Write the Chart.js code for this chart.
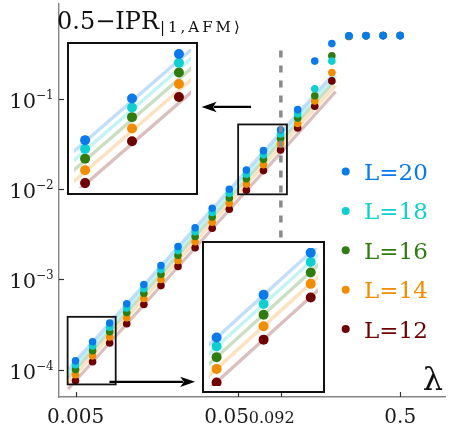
<!DOCTYPE html>
<html>
<head>
<meta charset="utf-8">
<script src="https://cdn.jsdelivr.net/npm/chart.js@4.4.1/dist/chart.umd.min.js"></script>
<style>
html, body { margin: 0; padding: 0; background: #fff; }
#wrap { position: relative; width: 449px; height: 433px; }
#main { position: absolute; left: 0; top: 0; }
.inset { position: absolute; border: 2px solid #111; background: #fff; }
.inset canvas { display: block; }
</style>
</head>
<body>
<div id="wrap">
  <canvas id="main" width="449" height="433"></canvas>
  <div class="inset" style="left:67px;top:42px;width:127px;height:149px"><canvas id="insetA" width="127" height="149"></canvas></div>
  <div class="inset" style="left:202px;top:241px;width:119px;height:148px"><canvas id="insetB" width="119" height="148"></canvas></div>
</div>
<script>
// coupling strengths
const lambdas = [0.005, 0.00637, 0.00812, 0.01034, 0.01318, 0.0168, 0.0214, 0.02727, 0.03475, 0.04428,
                 0.05643, 0.0719, 0.0916, 0.1168, 0.1488, 0.1896, 0.2416, 0.3079, 0.3924, 0.5];

// 0.5 - IPR for each system size
const sizes = [20, 18, 16, 14, 12];
const iprL20 = [1.25e-4, 2.03e-4, 3.28e-4, 5.36e-4, 8.75e-4, 1.42e-3, 2.31e-3, 3.73e-3, 6.12e-3, 9.95e-3,
                0.0162, 0.0266, 0.0452, 0.0757, 0.261, 0.408, 0.499, 0.5, 0.5, 0.5];
const iprL18 = [1.13e-4, 1.83e-4, 2.95e-4, 4.82e-4, 7.88e-4, 1.28e-3, 2.08e-3, 3.36e-3, 5.51e-3, 8.96e-3,
                0.0146, 0.0239, 0.0407, 0.0679, 0.1287, 0.261, 0.497, 0.499, 0.5, 0.5];
const iprL16 = [1.0e-4, 1.62e-4, 2.62e-4, 4.29e-4, 7.0e-4, 1.14e-3, 1.85e-3, 2.98e-3, 4.9e-3, 7.96e-3,
                0.013, 0.0213, 0.0362, 0.061, 0.1079, 0.299, 0.495, 0.499, 0.5, 0.5];
const iprL14 = [8.75e-5, 1.42e-4, 2.3e-4, 3.75e-4, 6.13e-4, 9.94e-4, 1.62e-3, 2.61e-3, 4.28e-3, 6.97e-3,
                0.01134, 0.0186, 0.0316, 0.0532, 0.0944, 0.1948, 0.493, 0.498, 0.5, 0.5];
const iprL12 = [7.5e-5, 1.22e-4, 1.97e-4, 3.22e-4, 5.25e-4, 8.52e-4, 1.39e-3, 2.24e-3, 3.67e-3, 5.97e-3,
                0.00972, 0.016, 0.0271, 0.0474, 0.0825, 0.1576, 0.488, 0.497, 0.5, 0.5];

// perturbative fits, evaluated at the ends of fitRange
const fitRange = [0.0045, 0.2];
const fitL20 = [1.01e-4, 0.2];
const fitL18 = [9.1e-5, 0.18];
const fitL16 = [8.1e-5, 0.16];
const fitL14 = [7.1e-5, 0.14];
const fitL12 = [6.1e-5, 0.12];

const criticalLambda = 0.092;
const criticalSpan = [0.0029, 0.378];

const yTicks = [1e-4, 1e-3, 1e-2, 1e-1];
const yTickExp = ['\u22124', '\u22123', '\u22122', '\u22121'];
const xTicks = [0.005, 0.05, 0.092, 0.5];
const xTickLabels = ['0.005', '0.05', '0.092', '0.5'];

const series = [iprL20, iprL18, iprL16, iprL14, iprL12];
const fits = [fitL20, fitL18, fitL16, fitL14, fitL12];
const colors = ['#0a7aeb', '#10cfcf', '#2e7d0e', '#f28c00', '#6e0000'];

const SERIF = '"DejaVu Serif", serif';

function fade(hex, a) {
  const n = parseInt(hex.slice(1), 16);
  return `rgba(${n >> 16},${(n >> 8) & 255},${n & 255},${a})`;
}

function pointSets(radius) {
  return series.map((vals, i) => ({
    label: 'L=' + sizes[i],
    data: lambdas.map((l, k) => ({ x: l, y: vals[k] })),
    backgroundColor: colors[i],
    borderWidth: 0,
    pointRadius: radius,
    order: i
  }));
}

function fitSets(width) {
  return fits.map((f, i) => ({
    data: fitRange.map((l, k) => ({ x: l, y: f[k] })),
    showLine: true,
    borderColor: fade(colors[i], 0.25),
    borderWidth: width,
    pointRadius: 0,
    order: 10 + i
  }));
}

// log axis that keeps exactly the given limits
function logAxis(min, max, extra) {
  return Object.assign({ type: 'logarithmic', min, max, bounds: 'data',
    afterBuildTicks: s => { s.min = min; s.max = max; } }, extra);
}

// zoom windows and arrows, in data coordinates
const zoomBoxes = [
  { x: [0.0502, 0.1003], y: [0.00873, 0.0519] },
  { x: [0.00447, 0.00884], y: [6.85e-5, 3.84e-4] }
];
const arrows = [
  { from: [0.0603, 0.0811], to: [0.0299, 0.0811] },
  { from: [0.00809, 7.31e-5], to: [0.0273, 7.31e-5] }
];

function arrow(ctx, x0, y0, x1, y1) {
  const dir = Math.sign(x1 - x0);
  const len = 15, half = 5.2;
  ctx.beginPath();
  ctx.moveTo(x0, y0);
  ctx.lineTo(x1 - dir * len * 0.8, y1);
  ctx.stroke();
  ctx.beginPath();
  ctx.moveTo(x1, y1);
  ctx.lineTo(x1 - dir * len, y1 - half);
  ctx.lineTo(x1 - dir * len * 0.75, y1);
  ctx.lineTo(x1 - dir * len, y1 + half);
  ctx.closePath();
  ctx.fill();
}

const decorations = {
  id: 'decorations',
  afterDatasetsDraw(chart) {
    const { ctx, chartArea: a, scales: { x, y } } = chart;
    ctx.save();

    // inward tick marks
    ctx.strokeStyle = '#333';
    ctx.lineWidth = 1.2;
    yTicks.forEach(v => {
      const py = Math.round(y.getPixelForValue(v)) + 0.5;
      ctx.beginPath(); ctx.moveTo(a.left, py); ctx.lineTo(a.left + 5, py); ctx.stroke();
    });
    xTicks.forEach(v => {
      const px = Math.round(x.getPixelForValue(v)) + 0.5;
      ctx.beginPath(); ctx.moveTo(px, a.bottom); ctx.lineTo(px, a.bottom - 5); ctx.stroke();
    });

    // y tick labels: 10 with exponent
    ctx.fillStyle = '#1a1a1a';
    yTicks.forEach((v, i) => {
      const py = y.getPixelForValue(v);
      ctx.font = '21px ' + SERIF;
      ctx.textAlign = 'right';
      ctx.fillText('10', a.left - 23, py + 9);
      ctx.font = '12px ' + SERIF;
      ctx.textAlign = 'left';
      ctx.fillText(yTickExp[i], a.left - 23, py);
    });

    // x tick labels
    xTicks.forEach((v, i) => {
      const px = x.getPixelForValue(v);
      const base = a.bottom + 26;
      if (v === 0.05) {
        ctx.font = '20px ' + SERIF; ctx.textAlign = 'right';
        ctx.fillText(xTickLabels[i], px + 11, base);
      } else if (v === criticalLambda) {
        ctx.font = '16px ' + SERIF; ctx.textAlign = 'left';
        ctx.fillText(xTickLabels[i], px - 32, base);
      } else {
        ctx.font = '20px ' + SERIF; ctx.textAlign = 'center';
        ctx.fillText(xTickLabels[i], px, base);
      }
    });

    // zoom windows
    ctx.strokeStyle = '#111';
    ctx.lineWidth = 1.8;
    zoomBoxes.forEach(b => {
      const l = x.getPixelForValue(b.x[0]), r = x.getPixelForValue(b.x[1]);
      const t = y.getPixelForValue(b.y[1]), btm = y.getPixelForValue(b.y[0]);
      ctx.strokeRect(l, t, r - l, btm - t);
    });

    // arrows towards the insets
    ctx.fillStyle = '#000';
    ctx.strokeStyle = '#000';
    ctx.lineWidth = 2.2;
    arrows.forEach(ar => {
      arrow(ctx, x.getPixelForValue(ar.from[0]), y.getPixelForValue(ar.from[1]),
                 x.getPixelForValue(ar.to[0]), y.getPixelForValue(ar.to[1]));
    });

    // title
    ctx.fillStyle = '#111';
    ctx.textAlign = 'left';
    ctx.font = '24px ' + SERIF;
    const head = '0.5\u2212IPR';
    ctx.fillText(head, a.left - 2, 29);
    const w = ctx.measureText(head).width;
    ctx.font = '15px ' + SERIF;
    ctx.letterSpacing = '3px';
    ctx.fillText('|1,AFM\u27e9', a.left - 1 + w, 32);
    ctx.letterSpacing = '0px';

    // legend
    sizes.forEach((L, i) => {
      const cy = 171.5 + i * 39.4;
      ctx.fillStyle = colors[i];
      ctx.beginPath(); ctx.arc(345.7, cy, 4, 0, Math.PI * 2); ctx.fill();
      ctx.font = '23px ' + SERIF;
      ctx.textAlign = 'left';
      ctx.fillText('L=' + L, 364, cy + 8.5);
    });

    // axis label
    ctx.fillStyle = '#111';
    ctx.font = '32px ' + SERIF;
    ctx.textAlign = 'right';
    ctx.fillText('\u03bb', a.right - 2, a.bottom - 7);

    ctx.restore();
  }
};

const quiet = {
  animation: false,
  responsive: false,
  events: [],
  plugins: { legend: { display: false }, tooltip: { enabled: false } }
};

new Chart(document.getElementById('main'), {
  type: 'scatter',
  data: {
    datasets: [
      ...pointSets(3.8),
      ...fitSets(3.2),
      {
        data: criticalSpan.map(v => ({ x: criticalLambda, y: v })),
        showLine: true,
        borderColor: '#8a8a8a',
        borderWidth: 3.5,
        borderDash: [7, 8],
        pointRadius: 0,
        order: -1
      }
    ]
  },
  options: {
    ...quiet,
    layout: { padding: { left: 59, right: 0, top: 0, bottom: 36 } },
    scales: {
      x: logAxis(0.003956, 0.9439, {
        ticks: { display: false }, grid: { display: false },
        border: { color: '#858585', width: 1.4 },
        afterFit: s => { s.height = 0; }
      }),
      y: logAxis(4.97e-5, 1.12, {
        ticks: { display: false }, grid: { display: false },
        border: { color: '#858585', width: 1.4 },
        afterFit: s => { s.width = 0; }
      })
    }
  },
  plugins: [decorations]
});

function inset(id, xr, yr) {
  new Chart(document.getElementById(id), {
    type: 'scatter',
    data: { datasets: [...pointSets(5), ...fitSets(3.4)] },
    options: {
      ...quiet,
      layout: { padding: 0 },
      scales: {
        x: logAxis(xr[0], xr[1], { display: false }),
        y: logAxis(yr[0], yr[1], { display: false })
      }
    }
  });
}

inset('insetA', [0.05329, 0.09749], [0.009168, 0.04793]);
inset('insetB', [0.004808, 0.008431], [7.203e-5, 3.458e-4]);
</script>
</body>
</html>
